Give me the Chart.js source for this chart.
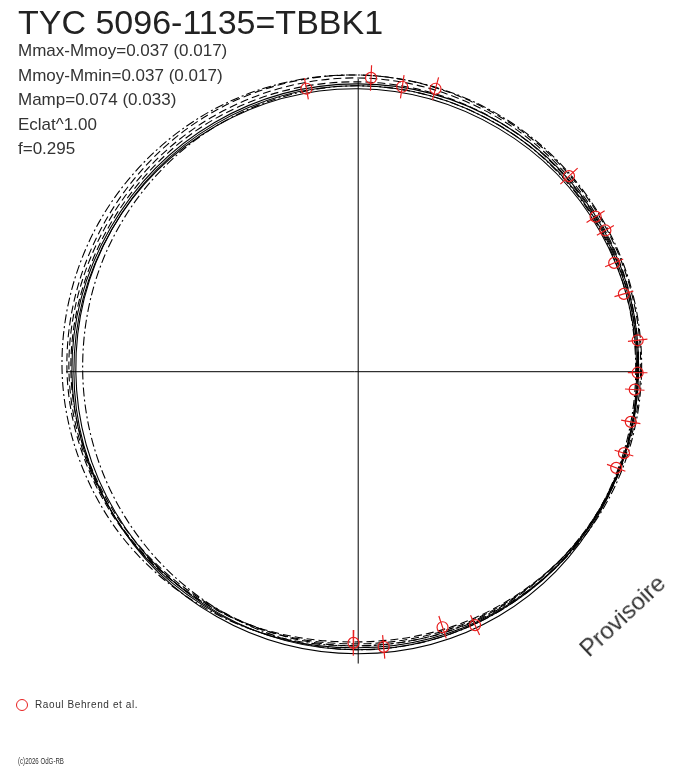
<!DOCTYPE html>
<html>
<head>
<meta charset="utf-8">
<script src="https://cdn.jsdelivr.net/npm/chart.js@4.4.1/dist/chart.umd.min.js"></script>
<style>
    html, body { margin: 0; padding: 0; background: #fff; }
    #wrap { position: relative; width: 688px; height: 768px; font-family: "Liberation Sans", Arial, sans-serif; color: #333; }
    #wrap canvas { position: absolute; left: 0; top: 0; }
    .txt { position: absolute; white-space: nowrap; }
    #title { left: 18px; top: 5px; font-size: 34px; line-height: 34px; color: #222; }
    #stats { left: 18px; top: 39px; font-size: 17px; line-height: 24.5px; }
    #prov { left: 589px; top: 638px; font-size: 24px; line-height: 24px; transform-origin: 0px 20px; transform: rotate(-43deg); }
    #legendDot { position: absolute; left: 16px; top: 699px; width: 12px; height: 12px; box-sizing: border-box; border: 1px solid #e82020; border-radius: 50%; }
    #legendTxt { left: 35px; top: 700px; font-size: 10px; line-height: 10px; letter-spacing: 0.6px; }
    #copy { left: 18px; top: 757px; font-size: 9px; line-height: 9px; transform-origin: 0 0; transform: scaleX(0.68); }
</style>
</head>
<body>
<div id="wrap">
    <canvas id="myChart" width="688" height="768"></canvas>
    <div class="txt" id="title">TYC 5096-1135=TBBK1</div>
    <div class="txt" id="stats">Mmax-Mmoy=0.037 (0.017)<br>Mmoy-Mmin=0.037 (0.017)<br>Mamp=0.074 (0.033)<br>Eclat^1.00<br>f=0.295</div>
    <div class="txt" id="prov">Provisoire</div>
    <div id="legendDot"></div>
    <div class="txt" id="legendTxt">Raoul Behrend et al.</div>
    <div class="txt" id="copy">(c)2026 OdG-RB</div>
</div>
<script>
// phase angle (deg, counter-clockwise from the right) of each curve sample
const phases = [0, 30, 60, 90, 120, 150, 180, 210, 240, 270, 300, 330]

// radius of the fitted curves at those phases (plot units)
const solid1 = [284, 285, 286, 288, 289, 290, 290, 289, 288, 287, 287, 285]
const solid2 = [285, 287, 289, 291, 291, 290, 288, 286, 284, 283, 283, 284]
const solid3 = [286, 289, 292, 293, 293, 292, 292, 289, 285, 281, 282, 284]
const dashed1 = [288, 292, 297, 302, 303, 300, 297, 290, 282, 275, 278, 284]
const dashed2 = [286, 290, 295, 299, 299, 297, 295, 289, 282, 277, 279, 283]
const dashed3 = [285, 288, 292, 295, 296, 294, 293, 287, 281, 279, 280, 283]
const dashdot1 = [289, 293, 298, 302, 305, 305, 302, 295, 286, 279, 281, 286]
const dashdot2 = [283, 286, 289, 291, 289, 285, 281, 280, 281, 283, 283, 283]

// observations (Raoul Behrend et al.)
const obsPhase = [100.4, 87.5, 81.2, 74.7, 42.8, 33.1, 29.7, 23.0, 16.3, 6.4, -0.2, -3.7, -10.4, -17.0, -20.4, 269.0, 275.3, 288.3, 294.8]
const obsRadius = [292.8, 299.3, 293.5, 298.6, 293.0, 289.0, 290.2, 283.6, 282.3, 286.8, 285.0, 282.6, 282.6, 283.4, 280.7, 276.0, 281.2, 273.9, 284.1]
const obsError = [11, 13, 12, 12, 12, 11, 10, 10, 10, 10, 10, 10, 10, 10, 10, 13, 12, 12, 11]

// extent of the two axes
const axisX = [-298, 290]
const axisY = [-297, 298]

const toXY = (deg, r) => ({ x: r * Math.cos(deg * Math.PI / 180), y: r * Math.sin(deg * Math.PI / 180) })

// wrap the samples so the spline closes smoothly, the two extra end segments are hidden
const closedCurve = (radii) => {
    let pts = radii.map((r, i) => toXY(phases[i], r))
    const n = pts.length
    return [pts[n - 1], ...pts, pts[0], pts[1]]
}
const curveLen = phases.length + 3
const hideEnds = (ctx) => (ctx.p0DataIndex === 0 || ctx.p1DataIndex === curveLen - 1) ? 'rgba(0,0,0,0)' : undefined

const curve = (radii, dash) => ({
    data: closedCurve(radii),
    borderColor: '#000',
    borderWidth: 1.1,
    borderDash: dash,
    tension: 0.35,
    pointRadius: 0,
    segment: { borderColor: hideEnds }
})

let errData = []
obsPhase.map((p, i) => {
    errData.push(toXY(p, obsRadius[i] - obsError[i]))
    errData.push(toXY(p, obsRadius[i] + obsError[i]))
    errData.push({ x: null, y: null })
})

const red = '#e82020'
const dashA = [8, 4]
const dashB = [9, 3, 2, 3]

let ctx = document.getElementById('myChart').getContext('2d')
let myChart = new Chart(ctx, {
    type: 'line',
    data: {
        datasets: [
            {
                data: obsPhase.map((p, i) => toXY(p, obsRadius[i])),
                showLine: false,
                pointRadius: 5.5,
                pointStyle: 'circle',
                pointBorderColor: red,
                pointBackgroundColor: 'rgba(0,0,0,0)',
                pointBorderWidth: 1.2
            },
            {
                data: errData,
                borderColor: red,
                borderWidth: 1.2,
                pointRadius: 0,
                spanGaps: false
            },
            {
                data: [{ x: axisX[0], y: 0 }, { x: axisX[1], y: 0 }],
                borderColor: '#000',
                borderWidth: 1,
                pointRadius: 0
            },
            {
                data: [{ x: 0, y: axisY[0] }, { x: 0, y: axisY[1] }],
                borderColor: '#000',
                borderWidth: 1,
                pointRadius: 0
            },
            curve(solid1, []),
            curve(solid2, []),
            curve(solid3, []),
            curve(dashed1, dashA),
            curve(dashed2, dashA),
            curve(dashed3, dashA),
            curve(dashdot1, dashB),
            curve(dashdot2, dashB)
        ]
    },
    options: {
        responsive: false,
        animation: false,
        events: [],
        layout: { padding: 0 },
        plugins: {
            legend: { display: false },
            tooltip: { enabled: false }
        },
        scales: {
            x: { type: 'linear', display: false, min: -358.5, max: 329.5 },
            y: { type: 'linear', display: false, min: -396.5, max: 371.5 }
        }
    }
})
</script>
</body>
</html>
